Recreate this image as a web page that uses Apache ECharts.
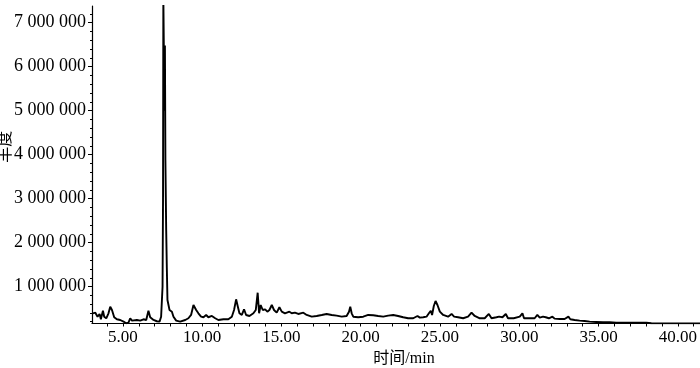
<!DOCTYPE html>
<html>
<head>
<meta charset="utf-8">
<script src="https://cdn.jsdelivr.net/npm/echarts@6/dist/echarts.min.js"></script>
<style>html,body{margin:0;padding:0;background:#fff}#c{width:700px;height:368px}</style>
</head>
<body>
<div id="c"></div>
<script>
// Retention time (min)
const timeMin = [
  3.11, 3.26, 3.40, 3.53, 3.61, 3.74, 3.82, 3.95, 4.09, 4.20, 4.31, 4.45, 4.62, 4.83, 5.04, 5.21, 5.35, 5.46, 5.57, 5.67,
  5.88, 6.09, 6.30, 6.47, 6.61, 6.72, 6.93, 7.14, 7.31, 7.41, 7.50, 7.53, 7.55, 7.59, 7.62, 7.65, 7.68, 7.73, 7.77, 7.81,
  7.94, 8.09, 8.19, 8.36, 8.61, 8.93, 9.13, 9.30, 9.45, 9.62, 9.76, 9.93, 10.08, 10.25, 10.39, 10.61, 10.82, 11.02, 11.34, 11.65,
  11.87, 12.01, 12.14, 12.25, 12.35, 12.50, 12.64, 12.77, 12.98, 13.23, 13.38, 13.50, 13.59, 13.69, 13.82, 13.97, 14.11, 14.24, 14.39, 14.53,
  14.70, 14.87, 15.02, 15.22, 15.50, 15.65, 15.85, 16.06, 16.38, 16.59, 16.91, 17.22, 17.54, 17.85, 18.17, 18.48, 18.80, 19.11, 19.26, 19.34,
  19.43, 19.53, 19.84, 20.16, 20.47, 20.79, 21.10, 21.42, 21.73, 22.05, 22.36, 22.68, 22.99, 23.31, 23.58, 23.73, 23.94, 24.15, 24.30, 24.42,
  24.50, 24.61, 24.72, 24.84, 24.99, 25.20, 25.51, 25.73, 25.89, 26.14, 26.46, 26.77, 26.99, 27.19, 27.51, 27.82, 28.08, 28.25, 28.56, 28.73,
  28.94, 29.15, 29.29, 29.65, 30.03, 30.20, 30.30, 30.66, 30.97, 31.14, 31.29, 31.50, 31.67, 31.87, 32.09, 32.23, 32.55, 32.86, 33.10, 33.22,
  33.49, 33.81, 34.12, 34.44, 34.86, 35.28, 35.70, 36.12, 36.75, 37.38, 38.01, 38.33, 38.60, 41.40
];
// Abundance
const abundance = [
  392000, 406000, 315000, 377000, 256000, 451000, 315000, 279000, 392000, 542000, 467000, 302000, 256000, 240000, 202000, 166000, 179000, 279000, 225000, 256000,
  240000, 225000, 256000, 240000, 451000, 302000, 240000, 211000, 202000, 315000, 996000, 2963000, 7600000, 7600000, 5000000, 6480000, 3870000, 2280000, 1420000, 694000,
  467000, 429000, 315000, 225000, 202000, 240000, 279000, 354000, 581000, 467000, 392000, 315000, 302000, 354000, 302000, 331000, 279000, 240000, 256000, 256000,
  315000, 467000, 710000, 542000, 392000, 354000, 483000, 354000, 331000, 392000, 467000, 860000, 392000, 581000, 467000, 483000, 429000, 467000, 581000, 467000,
  406000, 529000, 429000, 392000, 429000, 392000, 406000, 377000, 406000, 354000, 315000, 331000, 354000, 377000, 354000, 338000, 315000, 331000, 429000, 542000,
  392000, 315000, 302000, 315000, 354000, 347000, 331000, 315000, 338000, 354000, 331000, 302000, 279000, 279000, 331000, 293000, 302000, 315000, 392000, 451000,
  354000, 558000, 672000, 581000, 429000, 354000, 315000, 377000, 315000, 302000, 279000, 315000, 406000, 331000, 279000, 279000, 377000, 279000, 302000, 315000,
  302000, 377000, 279000, 279000, 315000, 392000, 279000, 279000, 279000, 354000, 293000, 315000, 302000, 279000, 315000, 270000, 263000, 263000, 315000, 256000,
  240000, 225000, 218000, 202000, 195000, 188000, 188000, 179000, 179000, 179000, 179000, 166000, 162000, 162000
];
// Tick labels
const xTickValues = [5, 10, 15, 20, 25, 30, 35, 40];
const yTickValues = [1000000, 2000000, 3000000, 4000000, 5000000, 6000000, 7000000];

const xMinorTicks = [];
for (let t = 4; t <= 41; t++) xMinorTicks.push(t);
const yMinorTicks = [];
for (let v = 200000; v <= 7200000; v += 200000) yMinorTicks.push(v);

const data = timeMin.map((t, i) => [t, abundance[i]]);

const FONT = '"Liberation Serif", "Noto Sans CJK SC", serif';
const chart = echarts.init(document.getElementById('c'), null, {renderer: 'canvas'});
chart.setOption({
  animation: false,
  backgroundColor: '#fff',
  grid: {left: 92, right: 0, top: 6, bottom: 44.5, containLabel: false, outerBoundsMode: 'none'},
  xAxis: {
    type: 'value', min: 3.05, max: 41.4,
    name: '时间/min', nameLocation: 'middle', nameGap: 27, nameMoveOverlap: false,
    nameTextStyle: {fontFamily: FONT, fontSize: 16, color: '#000', padding: [0, 0, 0, 16]},
    axisLine: {show: true, onZero: false, lineStyle: {color: '#000', width: 1.2}},
    axisTick: {show: true, customValues: xMinorTicks, length: 3, lineStyle: {color: '#000'}},
    axisLabel: {customValues: xTickValues, formatter: v => v.toFixed(2), margin: 6,
      fontFamily: FONT, fontSize: 17, color: '#000'},
    splitLine: {show: false}
  },
  yAxis: [{
    type: 'value', min: 160000, max: 7380000,
    name: '丰度', nameLocation: 'middle', nameRotate: 90, nameGap: 78, nameMoveOverlap: false,
    nameTextStyle: {fontFamily: FONT, fontSize: 16, color: '#000', padding: [0, 0, 0, 36]},
    axisLine: {show: true, lineStyle: {color: '#000', width: 1.2}},
    axisTick: {show: true, customValues: yTickValues, length: 4, lineStyle: {color: '#000'}},
    axisLabel: {customValues: yTickValues, margin: 6,
      formatter: v => (v / 1000000) + ' 000 000',
      fontFamily: FONT, fontSize: 18, color: '#000'},
    splitLine: {show: false}
  }, {
    type: 'value', min: 160000, max: 7380000, position: 'left',
    axisLine: {show: false},
    axisTick: {show: true, customValues: yMinorTicks, length: 2, lineStyle: {color: '#000'}},
    axisLabel: {show: false},
    splitLine: {show: false}
  }],
  series: [{
    type: 'line', data: data, showSymbol: false, symbol: 'none',
    lineStyle: {color: '#000', width: 1.9}, clip: true
  }]
});
</script>
</body>
</html>
